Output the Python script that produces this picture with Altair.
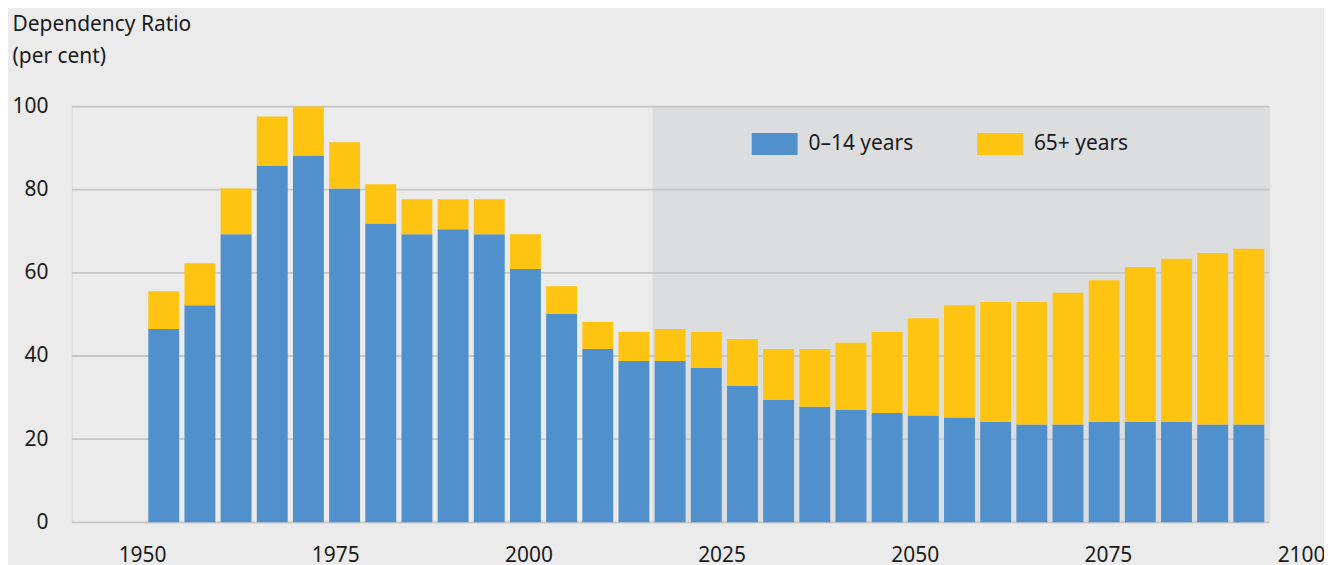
import altair as alt
import pandas as pd

# ---- data ----
years = list(range(1950, 2101, 5))
young = [46.5, 52.2, 69.3, 85.8, 88.2, 80.3, 71.9, 69.3, 70.5, 69.3, 60.9, 50.1,
         41.7, 38.8, 38.8, 37.1, 32.8, 29.4, 27.8, 27.0, 26.3, 25.7, 25.2, 24.2,
         23.5, 23.5, 24.2, 24.2, 24.2, 23.5, 23.5]
old = [9.1, 10.1, 11.0, 11.8, 11.8, 11.1, 9.4, 8.4, 7.2, 8.4, 8.4, 6.7,
       6.5, 7.0, 7.7, 8.7, 11.3, 12.3, 13.9, 16.2, 19.5, 23.4, 27.0, 28.8,
       29.5, 31.7, 34.0, 37.2, 39.2, 41.3, 42.3]
group_labels = ["0\u201314 years", "65+ years"]
group_colors = ["#4f90cd", "#ffc312"]
y_ticks = [0, 20, 40, 60, 80, 100]
x_label_years = [1950, 1975, 2000, 2025, 2050, 2075, 2100]
bar_year_domain = [1937.98, 2102.12]
projection_years = [2017.56, 2102.12]
label_year_domain = [1950, 2100]

rows = []
for i, yr in enumerate(years):
    rows.append({"year": yr, "group": group_labels[0], "value": young[i], "k": 0})
    rows.append({"year": yr, "group": group_labels[1], "value": old[i], "k": 1})
df = pd.DataFrame(rows)

W, H = 1201, 417
TXT = "#1a1a1a"
FONT = "Noto Sans"

xs = alt.Scale(domain=bar_year_domain, nice=False, zero=False)
ys = alt.Scale(domain=[0, 100], nice=False, zero=True)

y_axis = alt.Axis(
    values=y_ticks, ticks=False, domain=False, grid=False,
    labelFontSize=21, labelPadding=24, labelColor=TXT, labelFont=FONT,
    title=["Dependency Ratio", "(per cent)"], titleAngle=0, titleAlign="left",
    titleBaseline="alphabetic", titleX=-60, titleY=-76, titleFontSize=21,
    titleFontWeight="normal", titleLineHeight=32, titleColor=TXT, titleFont=FONT,
)

shade_df = pd.DataFrame({"x0": [projection_years[0]], "x1": [projection_years[1]],
                         "y0": [0], "y1": [100]})
shade = alt.Chart(shade_df).mark_rect(color="#dcdddf").encode(
    x=alt.X("x0:Q", scale=xs, axis=None),
    x2="x1:Q",
    y=alt.Y("y0:Q", scale=ys, axis=y_axis),
    y2="y1:Q",
)

grid = alt.Chart(pd.DataFrame({"v": y_ticks})).mark_rule(
    color="#c5c5c5", strokeWidth=1.8
).encode(
    y=alt.Y("v:Q", scale=ys, axis=y_axis),
    x=alt.value(0),
    x2=alt.value(W),
)

bars = alt.Chart(df).mark_bar(width=31).encode(
    x=alt.X("year:Q", scale=xs, axis=None),
    y=alt.Y("value:Q", stack="zero", scale=ys, axis=y_axis),
    color=alt.Color(
        "group:N",
        scale=alt.Scale(domain=group_labels, range=group_colors),
        legend=alt.Legend(
            orient="none", legendX=682, legendY=14, direction="horizontal",
            title=None, symbolType="M-1,-0.48H1V0.48H-1Z", symbolSize=2116,
            symbolStrokeWidth=0, symbolOpacity=1, labelFontSize=21,
            labelOffset=11, columnPadding=63, labelColor=TXT, labelFont=FONT,
            padding=0,
        ),
    ),
    order=alt.Order("k:Q"),
)

labels = alt.Chart(pd.DataFrame({"yr": x_label_years})).mark_point(opacity=0).encode(
    x=alt.X(
        "yr:Q",
        scale=alt.Scale(domain=label_year_domain, range=[70.5, 1233], nice=False, zero=False),
        axis=alt.Axis(
            values=x_label_years, format="d", orient="bottom", ticks=False,
            domain=False, grid=False, labelFontSize=21, labelPadding=22,
            labelFlush=False, labelOverlap=False, labelColor=TXT, labelFont=FONT,
            title=None,
        ),
    ),
)

chart = alt.layer(shade, grid, bars, labels).resolve_scale(x="independent").properties(
    width=W, height=H,
    autosize=alt.AutoSizeParams(type="none"),
    padding={"left": 64, "top": 98, "right": 55, "bottom": 52},
    background="#ebebeb",
).configure_view(stroke=None).configure(font=FONT)

chart.save("out.html", embed_options={"renderer": "svg", "actions": False})
